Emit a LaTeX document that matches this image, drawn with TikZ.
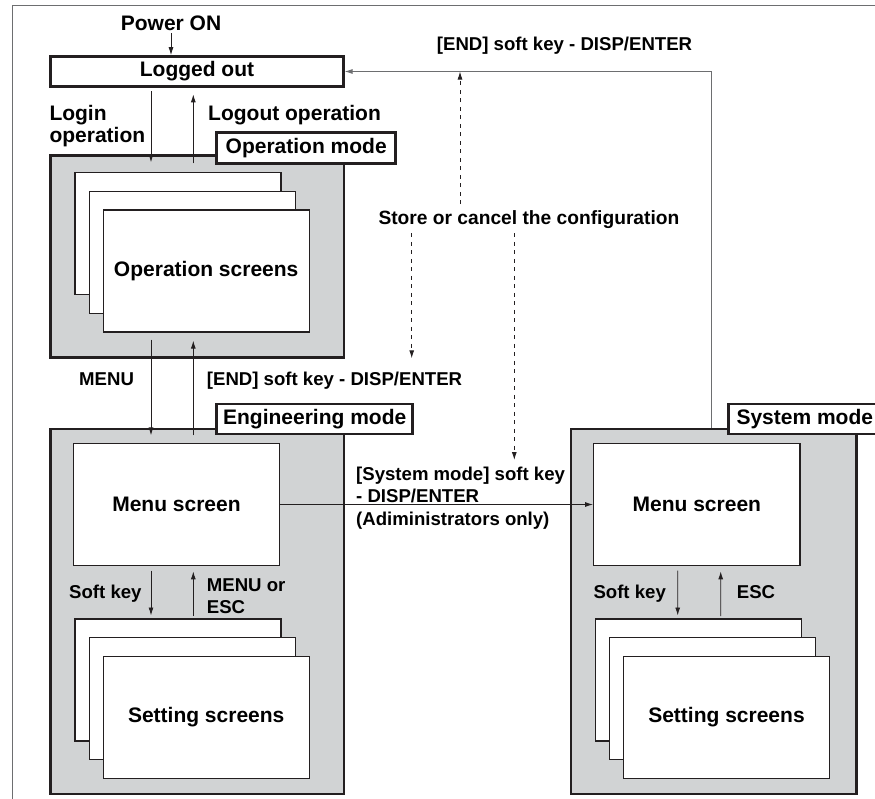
\documentclass[tikz,border=0pt]{standalone}
\usepackage{fontspec}
\setmainfont{Liberation Sans}
\usetikzlibrary{arrows.meta,calc}
\definecolor{ink}{HTML}{231F20}
\definecolor{panel}{HTML}{D1D3D4}
\definecolor{framec}{HTML}{6D6E70}
\newcommand{\mylines}[1]{\begin{tabular}[t]{@{}l@{}}#1\end{tabular}}
\begin{document}
\begin{tikzpicture}[x=1pt,y=-1pt,
  big/.style={font=\fontsize{21}{22}\selectfont\bfseries},
  small/.style={font=\fontsize{18.6}{22.5}\selectfont\bfseries},
  lbl/.style={inner sep=0pt, anchor=base west},
  modebox/.style={draw=ink, line width=2.6pt, fill=panel, inner sep=0pt},
  tag/.style={draw=ink, line width=2.6pt, fill=white, inner sep=0pt, big},
  screen/.style={draw=ink, line width=1.3pt, fill=white, inner sep=0pt, big, minimum width=206pt, minimum height=122pt},
  arr/.style={draw=ink, line width=0.9pt, -{Latex[length=8pt,width=5pt]}},
  dasharr/.style={arr, dash pattern=on 4pt off 4.5pt},
  retline/.style={arr, draw=framec}
]
\clip (0,0) rectangle (875,798);
\draw[framec, line width=1pt] (12,800) -- (12,5.5) -- (880,5.5);

% top
\node[big, inner sep=0pt, anchor=base] (power) at (171,30.7) {Power ON};
\node[draw=ink, line width=2.6pt, fill=white, big, inner sep=0pt, minimum width=292.6pt, minimum height=30pt] (logged) at (197,71.5) {Logged out};

% operation mode
\node[modebox, minimum width=293.3pt, minimum height=201.6pt] (opbox) at (197.35,256.5) {};
\node[screen] (os1) at (178,233.3) {};
\node[screen] (os2) at (192.2,252.2) {};
\node[screen] (os3) at (206.2,270.9) {Operation screens};
\node[tag, minimum width=179pt, minimum height=30.6pt] (optag) at (306.2,148) {Operation mode};

\node[big, lbl] (login) at (49.3,120) {\mylines{Login\\operation}};
\node[big, lbl] (logout) at (208,120.5) {Logout operation};

% engineering mode
\node[modebox, minimum width=293.3pt, minimum height=365pt] (engbox) at (197.35,611.5) {};
\node[screen, minimum width=205.6pt, minimum height=121.6pt] (emenu) at (176.5,504.5) {Menu screen};
\node[screen] (es1) at (178,679.85) {};
\node[screen] (es2) at (192.2,698.65) {};
\node[screen] (es3) at (206.2,717.5) {Setting screens};
\node[tag, minimum width=196pt, minimum height=30pt] (engtag) at (314.7,419) {Engineering mode};

\node[small, lbl] (menul) at (79,385) {MENU};
\node[small, lbl] (endl) at (206.7,385) {[END] soft key - DISP/ENTER};
\node[small, lbl] (softl) at (69,598) {Soft key};
\node[small, lbl] (menuesc) at (206.7,591) {\mylines{MENU or\\ESC}};

% system mode
\node[modebox, minimum width=285.7pt, minimum height=365pt] (sysbox) at (713.85,611.5) {};
\node[screen, minimum width=206.3pt, minimum height=121.6pt] (smenu) at (696.85,504.5) {Menu screen};
\node[screen] (ss1) at (698.5,679.85) {};
\node[screen] (ss2) at (712.5,698.65) {};
\node[screen] (ss3) at (726.5,717.5) {Setting screens};
\node[tag, minimum width=153pt, minimum height=30pt] (systag) at (804.8,419) {System mode};

\node[small, lbl] (softs) at (593.3,598) {Soft key};
\node[small, lbl] (escs) at (736.7,598) {ESC};

\node[small, lbl] (sysl) at (356,480) {\mylines{[System mode] soft key\\- DISP/ENTER\\(Adiministrators only)}};
\node[small, lbl] (endtop) at (436.7,50.5) {[END] soft key - DISP/ENTER};
\node[font=\fontsize{19.2}{22}\selectfont\bfseries, lbl] (store) at (378.3,224.3) {Store or cancel the configuration};

% arrows
\draw[arr] ($(power.base)+(0,2.5)$) -- (power.base |- logged.north);
\draw[arr] ($(logged.south)+(-46,3.4)$) -- ($(opbox.north)+(-46.35,8)$);
\draw[arr] ($(opbox.north)+(-4.05,9)$) -- ($(logged.south)+(-3.7,6.5)$);

\draw[arr] ($(opbox.south)+(-46.35,-19)$) -- ($(engbox.north)+(-46.35,7.7)$);
\draw[arr] ($(engbox.north)+(-4.05,7.7)$) -- ($(opbox.south)+(-4.05,-18)$);

\draw[arr] ($(emenu.south)+(-25.5,4.7)$) -- ($(es1.north)+(-27,-2.7)$);
\draw[arr] ($(es1.north)+(15.3,-2)$) -- ($(emenu.south)+(16.8,5.4)$);

\draw[arr] ($(smenu.south)+(-19.15,4.7)$) -- ($(ss1.north)+(-20.8,-2.7)$);
\draw[arr] ($(ss1.north)+(22.2,-2)$) -- ($(smenu.south)+(23.85,5.4)$);

\draw[arr] (emenu.east) -- (smenu.west);

\draw[retline] ($(sysbox.north)+(-2.2,0)$) |- (logged.east);

\coordinate (upend) at (460,71.5);
\coordinate (upstart) at (460,204);
\coordinate (d1s) at (411.7,233.3);
\coordinate (d1e) at (411.7,358.3);
\coordinate (d2s) at (514.3,233.3);
\coordinate (d2e) at (514.3,460);
\draw[dasharr] (upstart) -- (upend);
\draw[dasharr] (d1s) -- (d1e);
\draw[dasharr] (d2s) -- (d2e);
\end{tikzpicture}
\end{document}
